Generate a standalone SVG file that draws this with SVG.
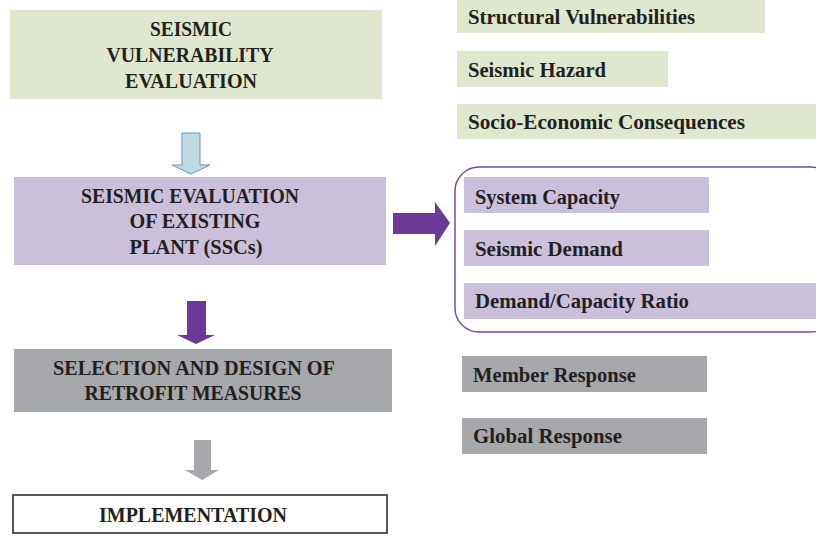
<svg xmlns="http://www.w3.org/2000/svg" width="816" height="537" viewBox="0 0 816 537">
  <style>
    text { font-family: "Liberation Serif", "Times New Roman", serif; font-weight: bold; fill: #231f20; }
    .main { font-size: 20px; text-anchor: middle; }
    .side { font-size: 20px; }
    .green { fill: #dfe8cf; }
    .lilac { fill: #cac0db; }
    .grey { fill: #a7a8ab; }
  </style>

  <!-- main column -->
  <g id="vulnerability-evaluation">
    <rect class="green" x="10" y="10" width="372" height="89"/>
    <text class="main" x="191" y="36" textLength="82" lengthAdjust="spacingAndGlyphs">SEISMIC</text>
    <text class="main" x="190" y="62" textLength="167" lengthAdjust="spacingAndGlyphs">VULNERABILITY</text>
    <text class="main" x="191" y="88" textLength="132" lengthAdjust="spacingAndGlyphs">EVALUATION</text>
  </g>

  <g id="existing-plant">
    <rect class="lilac" x="14" y="177" width="372" height="88"/>
    <text class="main" x="190" y="203" textLength="218" lengthAdjust="spacingAndGlyphs">SEISMIC EVALUATION</text>
    <text class="main" x="195" y="228" textLength="131" lengthAdjust="spacingAndGlyphs">OF EXISTING</text>
    <text class="main" x="196" y="254" textLength="133" lengthAdjust="spacingAndGlyphs">PLANT (SSCs)</text>
  </g>

  <g id="retrofit-measures">
    <rect class="grey" x="14" y="349" width="378" height="63"/>
    <text class="main" x="194" y="375" textLength="282" lengthAdjust="spacingAndGlyphs">SELECTION AND DESIGN OF</text>
    <text class="main" x="193" y="400" textLength="217" lengthAdjust="spacingAndGlyphs">RETROFIT MEASURES</text>
  </g>

  <g id="implementation">
    <rect x="13" y="495" width="374" height="38" fill="#ffffff" stroke="#231f20" stroke-width="1.5"/>
    <text class="main" x="193" y="522" textLength="188" lengthAdjust="spacingAndGlyphs">IMPLEMENTATION</text>
  </g>

  <!-- evaluation aspects -->
  <g id="structural-vulnerabilities">
    <rect class="green" x="457" y="0" width="308" height="33"/>
    <text class="side" x="468" y="24" textLength="227" lengthAdjust="spacingAndGlyphs">Structural Vulnerabilities</text>
  </g>
  <g id="seismic-hazard">
    <rect class="green" x="457" y="51" width="211" height="36"/>
    <text class="side" x="468" y="77" textLength="138" lengthAdjust="spacingAndGlyphs">Seismic Hazard</text>
  </g>
  <g id="socio-economic">
    <rect class="green" x="457" y="104" width="359" height="35"/>
    <text class="side" x="468" y="129" textLength="277" lengthAdjust="spacingAndGlyphs">Socio-Economic Consequences</text>
  </g>

  <!-- evaluation components, grouped in a rounded frame -->
  <g id="evaluation-frame">
    <rect x="455" y="167" width="380" height="165" rx="24" ry="24" fill="none" stroke="#7a4e9f" stroke-width="1.5"/>
  </g>
  <g id="system-capacity">
    <rect class="lilac" x="464" y="177" width="245" height="36"/>
    <text class="side" x="475" y="204" textLength="145" lengthAdjust="spacingAndGlyphs">System Capacity</text>
  </g>
  <g id="seismic-demand">
    <rect class="lilac" x="464" y="230" width="245" height="36"/>
    <text class="side" x="475" y="256" textLength="148" lengthAdjust="spacingAndGlyphs">Seismic Demand</text>
  </g>
  <g id="dc-ratio">
    <rect class="lilac" x="464" y="283" width="352" height="36"/>
    <text class="side" x="475" y="308" textLength="214" lengthAdjust="spacingAndGlyphs">Demand/Capacity Ratio</text>
  </g>

  <!-- response levels -->
  <g id="member-response">
    <rect class="grey" x="462" y="356" width="245" height="36"/>
    <text class="side" x="473" y="382" textLength="163" lengthAdjust="spacingAndGlyphs">Member Response</text>
  </g>
  <g id="global-response">
    <rect class="grey" x="462" y="418" width="245" height="36"/>
    <text class="side" x="473" y="443" textLength="149" lengthAdjust="spacingAndGlyphs">Global Response</text>
  </g>

  <!-- block arrows -->
  <g id="connectors">
    <polygon points="182,133 200,133 200,165 210,165 191,174 172,165 182,165" fill="#bfdbe0" stroke="#6f95c6" stroke-width="1"/>
    <polygon points="393,213 435,213 435,202 450,223 435,246 435,234 393,234" fill="#6b3a96"/>
    <polygon points="187,301 206,301 206,335 215,335 196,344 177,335 187,335" fill="#6b3a96"/>
    <polygon points="194,440 211,440 211,470 219,470 202,480 185,470 194,470" fill="#a7a8ab"/>
  </g>
</svg>
